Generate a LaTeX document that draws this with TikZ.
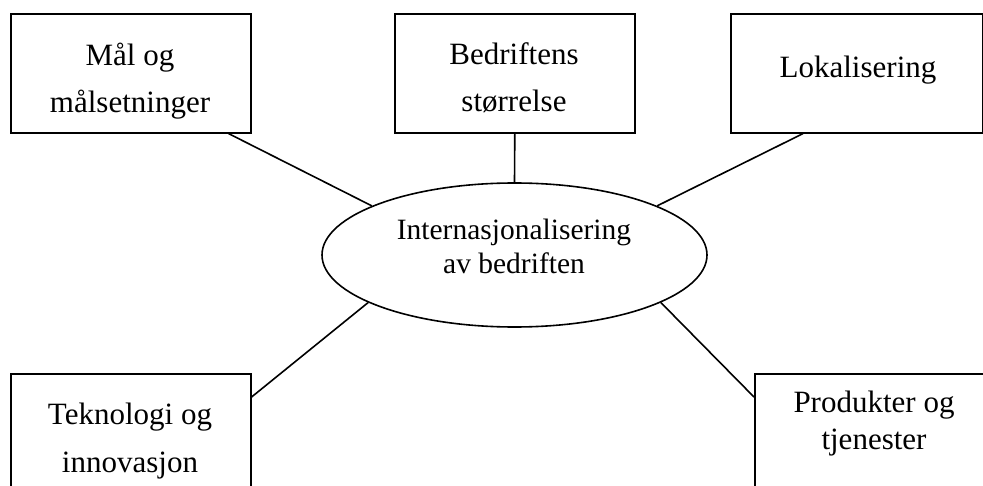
\documentclass[tikz,border=0pt]{standalone}
\usepackage{fontspec}
\setmainfont{Liberation Serif}
\usetikzlibrary{shapes.geometric}
\begin{document}
\begin{tikzpicture}[x=1pt,y=-1pt,
  box/.style={draw, line width=1.6pt, rectangle, inner sep=0pt, anchor=north west},
  lbl/.style={align=center, anchor=north, inner sep=0pt, font=\fontsize{31}{47}\selectfont},
  conn/.style={line width=1.6pt}]
\useasboundingbox (0,0) rectangle (983,486);
\clip (0,0) rectangle (983,486);
% boxes
\node[box, minimum width=240pt, minimum height=119pt] (b1) at (10,13) {};
\node[box, minimum width=240pt, minimum height=119pt] (b2) at (394,13) {};
\node[box, minimum width=252pt, minimum height=119pt] (b3) at (730,13) {};
\node[box, minimum width=240pt, minimum height=140pt] (b4) at (10,373) {};
\node[box, minimum width=240pt, minimum height=140pt] (b5) at (754,373) {};
\node[draw, ellipse, line width=1.6pt, minimum width=385pt, minimum height=144pt, inner sep=0pt] (e) at (514.5,255) {};
% texts
\node[lbl] (t1) at (130,42.6) {Mål og\\målsetninger};
\node[lbl] (t2) at (514,42.6) {Bedriftens\\størrelse};
\node[lbl] (t3) at (858,55.6) {Lokalisering};
\node[lbl, font=\fontsize{31}{48}\selectfont] (t4) at (130,402.6) {Teknologi og\\innovasjon};
\node[lbl, font=\fontsize{31}{37}\selectfont] (t5) at (874,390.6) {Produkter og\\tjenester};
\node[lbl, font=\fontsize{29.5}{34}\selectfont] (te) at (514,218.6) {Internasjonalisering\\av bedriften};
% connectors
\draw[conn] ([xshift=-23pt]b1.south east) -- (e.161.6);
\draw[conn] (b2.south) -- (e.north);
\draw[conn] ([xshift=73pt]b3.south west) -- (e.19);
\draw[conn] ([yshift=-24pt]b4.north east) -- (e.198.4);
\draw[conn] ([yshift=-24pt]b5.north west) -- (e.342);
\end{tikzpicture}
\end{document}
